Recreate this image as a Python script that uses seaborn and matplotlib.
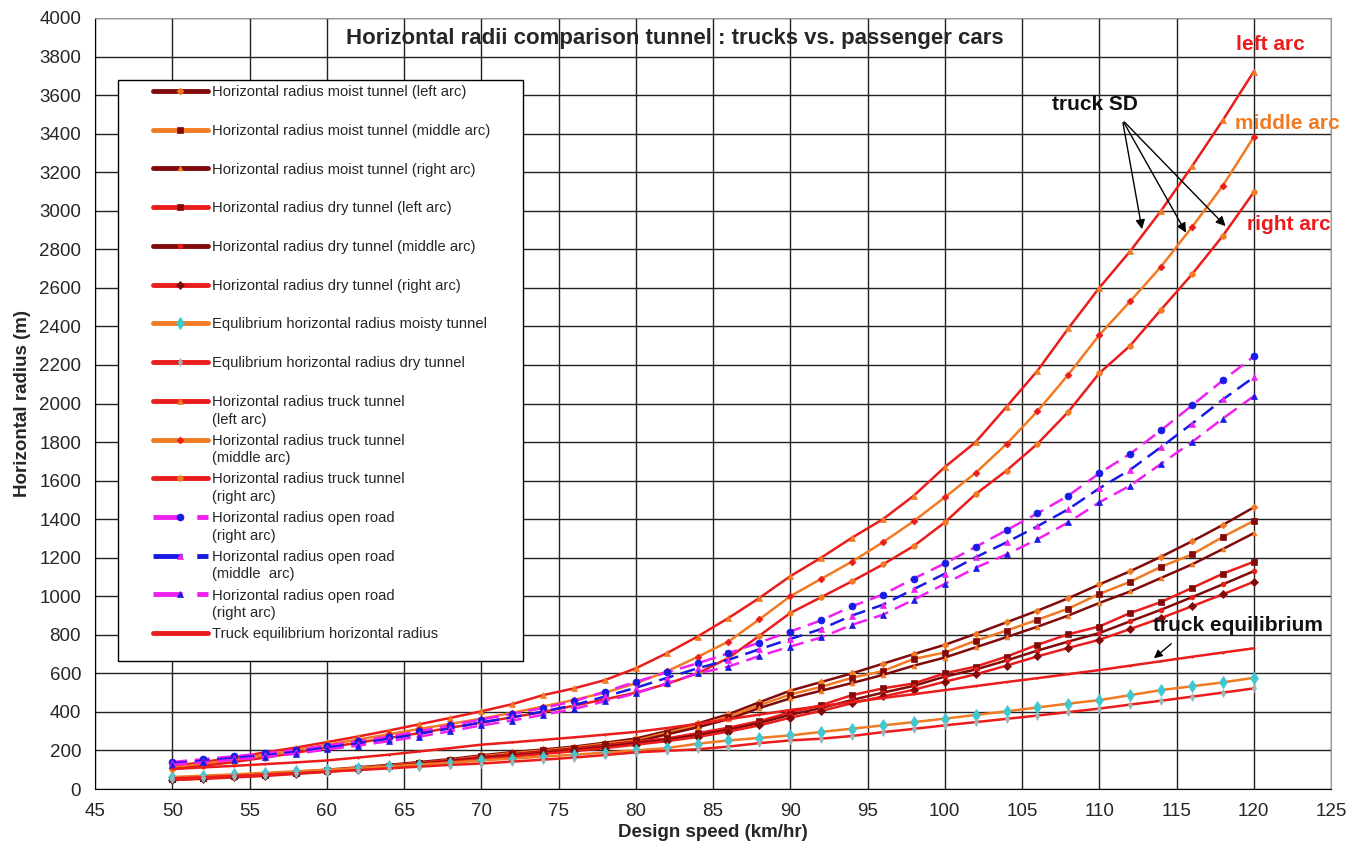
import matplotlib
matplotlib.use("Agg")
import matplotlib.pyplot as plt
from matplotlib.patches import Rectangle
import seaborn as sns

# design speed (km/hr), one point every 2 km/hr
speed = [50, 52, 54, 56, 58, 60, 62, 64, 66, 68, 70, 72, 74, 76, 78, 80, 82, 84,
         86, 88, 90, 92, 94, 96, 98, 100, 102, 104, 106, 108, 110, 112, 114, 116, 118, 120]

# horizontal radius (m)
moist_left = [55, 62, 70, 78, 88, 100, 112, 125, 140, 155, 175, 191, 205, 220, 240, 262, 300, 340,
              388, 450, 510, 555, 600, 650, 700, 748, 805, 865, 925, 990, 1061, 1130, 1205, 1285, 1370, 1461]
moist_middle = [52, 59, 67, 75, 85, 96, 108, 121, 135, 150, 170, 186, 200, 215, 235, 252, 292, 330,
                375, 435, 490, 530, 577, 612, 675, 708, 769, 822, 878, 936, 1012, 1075, 1153, 1217, 1308, 1391]
moist_right = [50, 57, 64, 72, 82, 93, 104, 117, 131, 146, 165, 180, 195, 210, 228, 245, 283, 320,
               362, 420, 470, 510, 550, 592, 640, 682, 735, 788, 842, 900, 965, 1025, 1095, 1165, 1245, 1327]
dry_left = [50, 57, 65, 74, 84, 95, 107, 120, 135, 150, 165, 178, 192, 208, 225, 245, 262, 290,
            318, 352, 398, 435, 487, 522, 548, 600, 635, 687, 748, 803, 843, 913, 970, 1043, 1117, 1179]
dry_middle = [48, 55, 62, 71, 81, 92, 104, 116, 130, 145, 160, 173, 187, 202, 219, 238, 255, 280,
              308, 342, 385, 420, 462, 500, 535, 583, 620, 667, 718, 765, 809, 870, 930, 995, 1062, 1130]
dry_right = [46, 53, 60, 68, 78, 89, 100, 112, 126, 140, 155, 168, 182, 196, 212, 230, 248, 270,
             298, 330, 370, 405, 445, 480, 515, 557, 595, 640, 688, 732, 774, 830, 887, 948, 1010, 1075]
equil_moist = [62, 69, 76, 84, 92, 100, 108, 117, 127, 136, 148, 158, 168, 178, 189, 200, 212, 235,
               252, 265, 278, 296, 313, 330, 347, 365, 384, 403, 423, 443, 461, 487, 513, 533, 553, 577]
equil_dry = [55, 61, 68, 75, 82, 90, 98, 107, 116, 125, 132, 142, 152, 163, 176, 190, 198, 206,
             220, 238, 252, 261, 275, 295, 312, 330, 347, 364, 381, 399, 417, 438, 458, 479, 500, 522]
truck_left = [118, 140, 163, 190, 215, 243, 272, 303, 336, 369, 403, 440, 487, 522, 565, 626, 704, 791,
              887, 991, 1104, 1200, 1304, 1400, 1522, 1670, 1800, 1983, 2170, 2390, 2600, 2790, 3000, 3230, 3470, 3722]
truck_middle = [110, 130, 152, 177, 202, 230, 256, 284, 312, 338, 365, 395, 428, 462, 500, 548, 610, 685,
                765, 880, 1000, 1090, 1180, 1280, 1390, 1513, 1640, 1790, 1960, 2150, 2355, 2530, 2710, 2915, 3130, 3383]
truck_right = [102, 120, 140, 163, 188, 215, 240, 265, 290, 318, 345, 372, 400, 432, 465, 500, 545, 600,
               680, 795, 913, 995, 1078, 1165, 1261, 1383, 1530, 1652, 1791, 1957, 2157, 2300, 2487, 2670, 2870, 3096]
open_right_a = [140, 155, 170, 185, 203, 225, 248, 272, 300, 330, 360, 390, 420, 455, 505, 556, 605, 652,
                704, 760, 817, 875, 948, 1009, 1092, 1170, 1256, 1343, 1430, 1522, 1638, 1739, 1861, 1990, 2120, 2244]
open_middle = [133, 146, 161, 175, 193, 215, 236, 260, 286, 315, 345, 372, 402, 435, 480, 525, 576, 626,
               670, 725, 778, 830, 900, 956, 1037, 1117, 1202, 1280, 1363, 1452, 1560, 1656, 1774, 1895, 2021, 2136]
open_right_b = [126, 138, 152, 166, 183, 205, 225, 248, 272, 300, 330, 355, 385, 415, 455, 496, 548, 600,
                635, 690, 739, 786, 852, 904, 983, 1064, 1148, 1217, 1296, 1383, 1487, 1574, 1687, 1800, 1922, 2038]
truck_equil = [104, 112, 120, 129, 138, 148, 163, 178, 195, 212, 230, 242, 255, 268, 282, 296, 316, 338,
               362, 386, 410, 430, 451, 472, 492, 513, 534, 555, 575, 596, 617, 640, 663, 686, 708, 730]

# legend text: first line goes in the legend, second line (if any) is set below it
labels = [
    ("Horizontal radius moist tunnel (left arc)", None),
    ("Horizontal radius moist tunnel (middle arc)", None),
    ("Horizontal radius moist tunnel (right arc)", None),
    ("Horizontal radius dry tunnel (left arc)", None),
    ("Horizontal radius dry tunnel (middle arc)", None),
    ("Horizontal radius dry tunnel (right arc)", None),
    ("Equlibrium horizontal radius moisty tunnel", None),
    ("Equlibrium horizontal radius dry tunnel", None),
    ("Horizontal radius truck tunnel", "(left arc)"),
    ("Horizontal radius truck tunnel", "(middle arc)"),
    ("Horizontal radius truck tunnel", "(right arc)"),
    ("Horizontal radius open road", "(right arc)"),
    ("Horizontal radius open road", "(middle  arc)"),
    ("Horizontal radius open road", "(right arc)"),
    ("Truck equilibrium horizontal radius", None),
]

DARK = "#800a0a"
ORANGE = "#f27a22"
RED = "#ea1c1c"
MAGENTA = "#f020f0"
BLUE = "#1a1ae6"
CYAN = "#40c8d0"
DASH = (0, (6, 3))

# values, line colour, line style, marker, marker colour, marker size
series = [
    (moist_left, DARK, "-", "D", ORANGE, 3.5),
    (moist_middle, ORANGE, "-", "s", DARK, 5),
    (moist_right, DARK, "-", "^", ORANGE, 3.5),
    (dry_left, RED, "-", "s", DARK, 5),
    (dry_middle, DARK, "-", "o", RED, 3.5),
    (dry_right, RED, "-", "D", DARK, 4),
    (equil_moist, ORANGE, "-", "d", CYAN, 6),
    (equil_dry, RED, "-", "d", "#9ab4b8", 4),
    (truck_left, RED, "-", "^", ORANGE, 4),
    (truck_middle, ORANGE, "-", "D", RED, 3.5),
    (truck_right, RED, "-", "o", ORANGE, 4),
    (open_right_a, MAGENTA, DASH, "o", BLUE, 5),
    (open_middle, BLUE, DASH, "^", MAGENTA, 5),
    (open_right_b, MAGENTA, DASH, "^", BLUE, 5),
    (truck_equil, RED, "-", ".", RED, 2),
]

sns.set_style("white")
plt.rcParams["font.family"] = ["Liberation Sans", "DejaVu Sans"]

fig = plt.figure(figsize=(13.62, 8.48), dpi=100)
ax = fig.add_axes([95 / 1362, 59 / 848, 1236 / 1362, 771 / 848])

for (vals, lc, ls, mk, mc, ms), (lab, _) in zip(series, labels):
    sns.lineplot(x=speed, y=vals, ax=ax, color=lc, linestyle=ls, linewidth=1.8,
                 marker=mk, markersize=ms, markerfacecolor=mc, markeredgecolor=mc,
                 markeredgewidth=0.5, label=lab, legend=False)

ax.set_xlim(45, 125)
ax.set_ylim(0, 4000)
ax.set_xticks(range(45, 126, 5))
ax.set_yticks(range(0, 4001, 200))
ax.grid(True, color="#222222", linewidth=1)
ax.set_axisbelow(True)
for side in ["top", "right"]:
    ax.spines[side].set_color("#999999")
for side in ["left", "bottom"]:
    ax.spines[side].set_color("black")
ax.tick_params(direction="out", length=7, width=1, color="black", labelsize=13.5, pad=3)

ax.set_xlabel("Design speed (km/hr)", fontsize=13.5, fontweight="bold", labelpad=3)
ax.set_ylabel("Horizontal radius (m)", fontsize=13.5, fontweight="bold", labelpad=6)
ax.text(0.469, 0.974, "Horizontal radii comparison tunnel : trucks vs. passenger cars",
        transform=ax.transAxes, ha="center", va="center", fontsize=16, fontweight="bold")

# legend frame + legend
ax.add_patch(Rectangle((0.0186, 0.166), 0.3277, 0.7536, transform=ax.transAxes,
                       facecolor="white", edgecolor="black", lw=1, zorder=4))
handles = ax.get_lines()[:len(labels)]
leg = ax.legend(handles, [a for a, _ in labels], loc="upper left", bbox_to_anchor=(0.0469, 0.913),
                frameon=False, fontsize=10.6, handlelength=3.74, handletextpad=0.27,
                labelspacing=1.68, borderpad=0, borderaxespad=0)
leg.set_zorder(5)
for h in leg.get_lines():
    h.set_linewidth(3.5)

fig.canvas.draw()
renderer = fig.canvas.get_renderer()
to_axes = ax.transAxes.inverted()
for t, (_, second) in zip(leg.get_texts(), labels):
    if second is None:
        continue
    bb = t.get_window_extent(renderer)
    x2, y2 = to_axes.transform((bb.x0, bb.y0 - 3.6))
    ax.text(x2, y2, second, transform=ax.transAxes, fontsize=10.6, ha="left", va="top", zorder=6)

# annotations
ax.text(121.1, 3860, "left arc", color=RED, fontsize=15, fontweight="bold", ha="center", va="center")
ax.text(122.2, 3455, "middle arc", color=ORANGE, fontsize=15, fontweight="bold", ha="center", va="center")
ax.text(122.3, 2931, "right arc", color=RED, fontsize=15, fontweight="bold", ha="center", va="center")
ax.text(109.7, 3549, "truck SD", color="#111111", fontsize=15, fontweight="bold", ha="center", va="center")
for tip in [(112.8, 2890), (115.7, 2874), (118.3, 2910)]:
    ax.annotate("", xy=tip, xytext=(111.5, 3471),
                arrowprops=dict(arrowstyle="-|>", color="black", lw=1, mutation_scale=14))
ax.text(119.0, 850, "truck equilibrium", color="#111111", fontsize=15, fontweight="bold",
        ha="center", va="center")
ax.annotate("", xy=(113.4, 669), xytext=(114.8, 763),
            arrowprops=dict(arrowstyle="-|>", color="black", lw=1, mutation_scale=12))

fig.savefig("out.png", dpi=100)
